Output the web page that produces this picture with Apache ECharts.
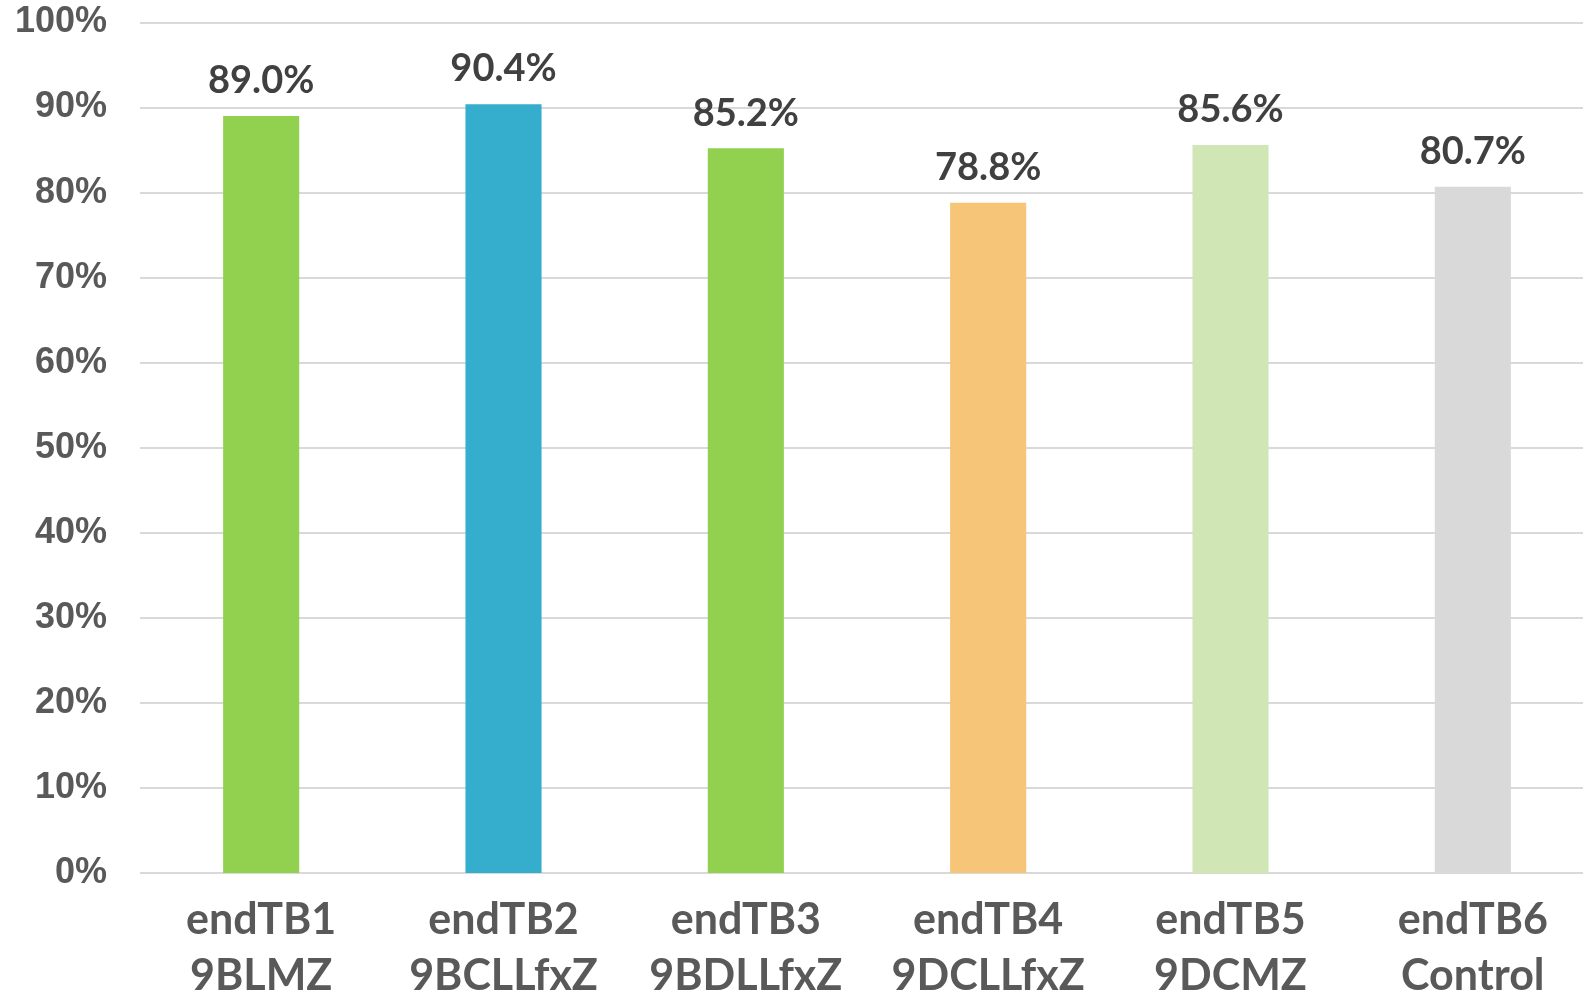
<!DOCTYPE html>
<html>
<head>
<meta charset="utf-8">
<script src="https://cdn.jsdelivr.net/npm/echarts@6/dist/echarts.min.js"></script>
<style>
html,body{margin:0;padding:0;background:#fff;}
#chart{width:1583px;height:1000px;}
</style>
</head>
<body>
<div id="chart"></div>
<script>
const categories = ['endTB1\n9BLMZ', 'endTB2\n9BCLLfxZ', 'endTB3\n9BDLLfxZ', 'endTB4\n9DCLLfxZ', 'endTB5\n9DCMZ', 'endTB6\nControl'];
const values = [89.0, 90.4, 85.2, 78.8, 85.6, 80.7];
const barColors = ['#92d050', '#35aecd', '#92d050', '#f7c577', '#d1e6b5', '#d9d9d9'];
const yTicks = [0, 10, 20, 30, 40, 50, 60, 70, 80, 90, 100];

const chart = echarts.init(document.getElementById('chart'));
chart.setOption({
  animation: false,
  grid: { left: 140, width: 1454, top: 22.5, height: 850.5, outerBoundsMode: 'none', containLabel: false },
  xAxis: {
    type: 'category',
    data: categories,
    axisLine: { show: false },
    axisTick: { show: false },
    axisLabel: {
      interval: 0,
      margin: 19,
      color: '#595959',
      fontFamily: 'Lato',
      fontWeight: 'bold',
      fontSize: 43,
      lineHeight: 56
    }
  },
  yAxis: {
    type: 'value',
    min: yTicks[0],
    max: yTicks[yTicks.length - 1],
    interval: 10,
    axisLine: { show: false },
    axisTick: { show: false },
    splitLine: { lineStyle: { color: '#d9d9d9', width: 2 } },
    axisLabel: {
      margin: 33,
      formatter: '{value}%',
      color: '#595959',
      fontFamily: 'Liberation Sans',
      fontWeight: 'bold',
      fontSize: 36
    }
  },
  series: [{
    type: 'bar',
    barWidth: '31.4%',
    data: values.map((v, i) => ({ value: v, itemStyle: { color: barColors[i] } })),
    label: {
      show: true,
      position: 'top',
      distance: 16,
      formatter: p => p.value.toFixed(1) + '%',
      color: '#404040',
      fontFamily: 'Lato',
      fontWeight: 'bold',
      fontSize: 38
    }
  }]
});
</script>
</body>
</html>
